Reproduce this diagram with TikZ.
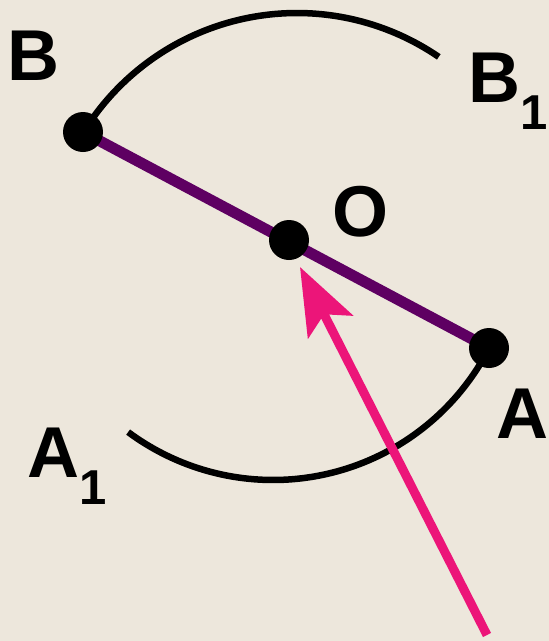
\documentclass[tikz,border=0pt]{standalone}
\usepackage{fontspec}
\setmainfont{Liberation Sans}
\usetikzlibrary{arrows.meta}
\definecolor{bgbeige}{HTML}{EDE7DC}
\definecolor{rodpurple}{HTML}{5E0062}
\definecolor{arrowpink}{HTML}{EC1579}
\newcommand{\biglbl}{\fontsize{72}{72}\selectfont\bfseries}
\newcommand{\sublbl}[1]{\raisebox{-27pt}{\fontsize{49}{49}\selectfont\bfseries #1}}
\tikzset{
  lbl/.style={inner sep=0pt, anchor=base west, font=\biglbl, text=black},
  dot/.style={circle, fill=black, minimum size=40pt, inner sep=0pt},
  rod/.style={line width=11pt, rodpurple},
  arcline/.style={line width=6.5pt, black},
  pinkarrow/.style={line width=9pt, arrowpink, -{Stealth[length=67pt, width=50pt, inset=14pt]}}
}
\begin{document}
\begin{tikzpicture}[x=1pt, y=1pt]
  \useasboundingbox (0,0) rectangle (549,-641);
  \fill[bgbeige] (0,0) rectangle (549,-641);
  % centres of arcs
  \coordinate (ctrU) at (297,-264);
  \coordinate (ctrL) at (273,-237);
  % arcs
  \draw[arcline] ([shift={(148.3:251)}]ctrU) arc[start angle=148.3, end angle=55.6, radius=251];
  \draw[arcline] ([shift={(-27.2:243)}]ctrL) arc[start angle=-27.2, end angle=-126.6, radius=243];
  % points
  \coordinate (pB) at (83,-132);
  \coordinate (pO) at (289,-240);
  \coordinate (pA) at (489,-348);
  \draw[rod] (pB) -- (pA);
  \node[dot] (b) at (pB) {};
  \node[dot] (o) at (pO) {};
  \node[dot] (a) at (pA) {};
  % arrow
  \coordinate (tail) at (487,-635);
  \coordinate (tip) at (300,-267);
  \draw[pinkarrow] (tail) -- (tip);
  % labels
  \node[lbl] (lB) at (7,-80) {B};
  \node[lbl] (lB1) at (468,-102) {B\sublbl{1}};
  \node[lbl] (lO) at (332,-236) {O};
  \node[lbl] (lA) at (496,-438) {A};
  \node[lbl] (lA1) at (27,-477) {A\sublbl{1}};
\end{tikzpicture}
\end{document}
